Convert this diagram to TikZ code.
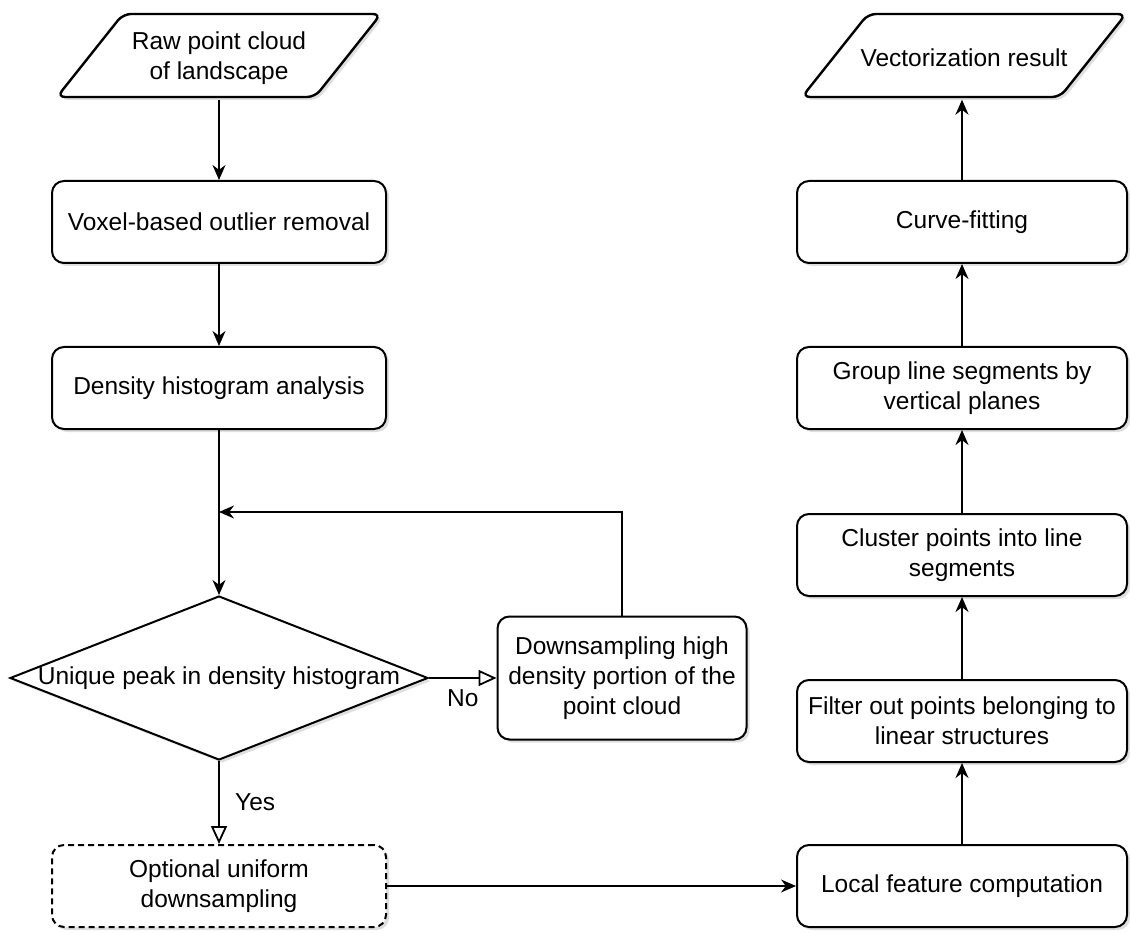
\documentclass[tikz,border=0pt]{standalone}
\usepackage{fontspec}
\setmainfont{Liberation Sans}
\usetikzlibrary{positioning,shapes.geometric,arrows.meta,shadows,calc}
\tikzset{>=Stealth}

\begin{document}
\begin{tikzpicture}[x=1pt,y=-1pt,
  font=\fontsize{24.5}{30}\selectfont,
  shade/.style={drop shadow={opacity=0.25,shadow xshift=3pt,shadow yshift=-3pt}},
  box/.style={draw,line width=2pt,rounded corners=12pt,fill=white,shade,
    minimum width=334pt,minimum height=82pt,align=center,inner sep=2pt},
  rbox/.style={box,minimum width=330pt},
  iotext/.style={minimum width=192pt,minimum height=83pt,align=center,inner sep=0pt},
  iobox/.style={draw,line width=2.4pt,rounded corners=8pt,fill=white,shade},
  decision/.style={diamond,draw,line width=2pt,fill=white,shade,
    minimum width=418pt,minimum height=164pt,inner sep=0pt},
  flow/.style={->,line width=1.8pt,>={Stealth[length=15pt,width=13pt]}},
  branch/.style={line width=1.8pt,-{Triangle[open,length=18pt,width=16pt]}}]

\useasboundingbox (0,0) rectangle (1130,933);

% left column
\path[iobox] (57,97) -- (123,14) -- (381,14) -- (315,97) -- cycle;
\node[iotext] (raw) at (219,58) {Raw point cloud\\of landscape};
\node[box] (voxel) at (219,222) {Voxel-based outlier removal};
\node[box] (dens) at (219,388) {Density histogram analysis};
\node[decision] (uniq) at (219,678) {};
\node (uniqtext) at (uniq.center) {Unique peak in density histogram};
\node[box,minimum width=249pt,minimum height=123pt] (down) at (622,678)
  {Downsampling high\\density portion of the\\point cloud};
\node[box,dash pattern=on 6pt off 4pt] (opt) at (219,886) {Optional uniform\\downsampling};

% right column
\path[iobox] (802,97) -- (868,14) -- (1126,14) -- (1060,97) -- cycle;
\node[iotext] (vec) at (964,58) {Vectorization result};
\node[rbox] (curve) at (962,222) {Curve-fitting};
\node[rbox] (group) at (962,388) {Group line segments by\\vertical planes};
\node[rbox] (clust) at (962,555) {Cluster points into line\\segments};
\node[rbox] (filt) at (962,721) {Filter out points belonging to\\linear structures};
\node[rbox] (local) at (962,886) {Local feature computation};

\coordinate (merge) at (219,512);

\draw[flow] (raw.south) -- (voxel);
\draw[flow] (voxel) -- (dens);
\draw[flow] (dens) -- (uniq);
\draw[flow] (down.north) |- (merge);
\draw[branch] (uniq.east) -- (down.west) node[midway,below=7pt] {No};
\draw[branch] (uniq.south) -- (opt.north) node[midway,right=12pt] {Yes};
\draw[flow] (opt) -- (local);
\draw[flow] (local) -- (filt);
\draw[flow] (filt) -- (clust);
\draw[flow] (clust) -- (group);
\draw[flow] (group) -- (curve);
\draw[flow] (curve.north) -- (vec.south -| curve.north);
\end{tikzpicture}
\end{document}
